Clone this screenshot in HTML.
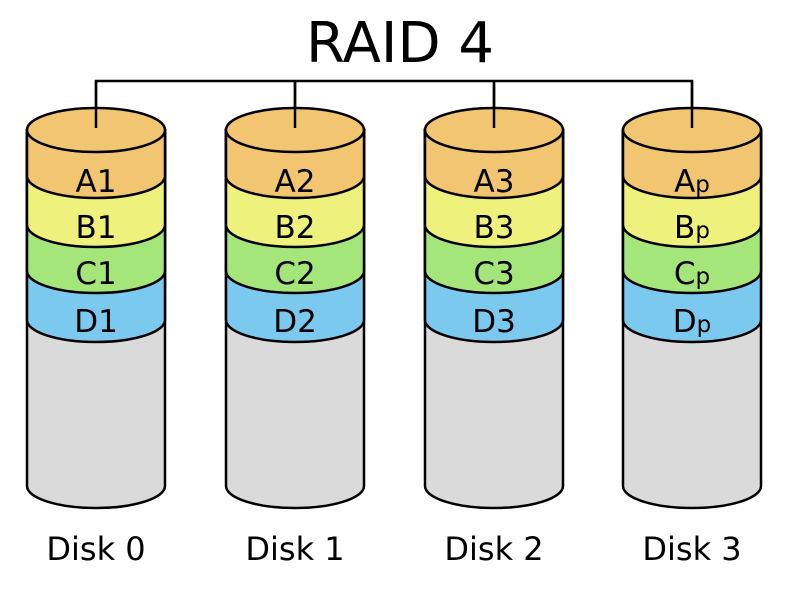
<!DOCTYPE html>
<html><head><meta charset="utf-8"><style>
html,body{margin:0;padding:0;background:#fff;}
svg{display:block;}
text{font-family:"DejaVu Sans","Liberation Sans",sans-serif;fill:#000;}
</style></head><body>
<svg width="800" height="592" viewBox="0 0 800 592" xmlns="http://www.w3.org/2000/svg">
<defs>
<g id="disk" stroke="#000" stroke-width="2.5">
  <path d="M-69,130 L-69,486 A69,22 0 0 0 69,486 L69,130 Z" fill="#dadada"/>
  <path d="M-69,130 L-69,320 A69,22 0 0 0 69,320 L69,130 Z" fill="#7cc9ef"/>
  <path d="M-69,130 L-69,271 A69,22 0 0 0 69,271 L69,130 Z" fill="#a5e67a"/>
  <path d="M-69,130 L-69,225 A69,22 0 0 0 69,225 L69,130 Z" fill="#eef27c"/>
  <path d="M-69,130 L-69,176 A69,22 0 0 0 69,176 L69,130 Z" fill="#f2c570"/>
  <ellipse cx="0" cy="130" rx="69" ry="22" fill="#f2c570"/>
</g>
</defs>
<text x="400" y="62" font-size="56" text-anchor="middle">RAID 4</text>
<path d="M96,128 L96,81 L692,81 L692,128 M295,81 L295,128 M494,81 L494,128" fill="none" stroke="#000" stroke-width="2.5"/>
<use href="#disk" transform="translate(96,0)"/>
<use href="#disk" transform="translate(295,0)"/>
<use href="#disk" transform="translate(494,0)"/>
<use href="#disk" transform="translate(692,0)"/>
<path d="M96,128 L96,81 M295,81 L295,128 M494,81 L494,128 M692,81 L692,128" stroke="#000" stroke-width="2.5"/>
<g font-size="31" text-anchor="middle">
<text x="96" y="192">A1</text><text x="96" y="238">B1</text><text x="96" y="284">C1</text><text x="96" y="332">D1</text>
<text x="295" y="192">A2</text><text x="295" y="238">B2</text><text x="295" y="284">C2</text><text x="295" y="332">D2</text>
<text x="494" y="192">A3</text><text x="494" y="238">B3</text><text x="494" y="284">C3</text><text x="494" y="332">D3</text>
<text x="692" y="192">A<tspan font-size="23">p</tspan></text>
<text x="692" y="238">B<tspan font-size="23">p</tspan></text>
<text x="692" y="284">C<tspan font-size="23">p</tspan></text>
<text x="692" y="332">D<tspan font-size="23">p</tspan></text>
</g>
<g font-size="32" text-anchor="middle">
<text x="96" y="560">Disk 0</text><text x="295" y="560">Disk 1</text><text x="494" y="560">Disk 2</text><text x="692" y="560">Disk 3</text>
</g>
</svg>
</body></html>
